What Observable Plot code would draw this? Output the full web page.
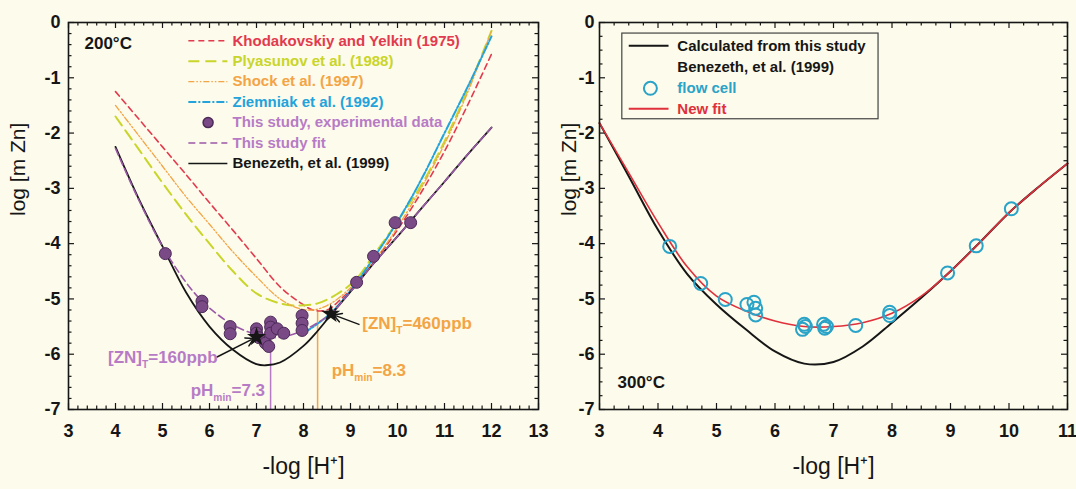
<!DOCTYPE html>
<html>
<head>
<meta charset="utf-8">
<script src="https://cdn.jsdelivr.net/npm/d3@7"></script>
<script src="https://cdn.jsdelivr.net/npm/@observablehq/plot@0.6"></script>
<style>
  html, body { margin: 0; padding: 0; background: #fdfbeb; }
  #wrap { display: flex; width: 1076px; height: 489px; background: #fdfbeb; }
  #wrap svg { display: block; overflow: visible; }
</style>
</head>
<body>
<div id="wrap"></div>
<script>
// ---------- 200 °C panel: literature models ----------
const khoX = [4, 4.5, 5, 5.5, 6, 6.5, 7, 7.5, 7.9, 8.2, 8.5, 8.8, 9.2, 9.6, 10, 10.5, 11, 11.5, 12];
const khoY = [-1.25, -1.75, -2.25, -2.75, -3.26, -3.76, -4.27, -4.78, -5.05, -5.2, -5.2, -5.0, -4.65, -4.22, -3.75, -3.08, -2.33, -1.48, -0.57];

const plyX = [4, 4.5, 5, 5.5, 6, 6.5, 7, 7.5, 7.9, 8.3, 8.7, 9.1, 9.5, 10, 10.5, 11, 11.5, 12];
const plyY = [-1.7, -2.3, -2.9, -3.47, -4.0, -4.5, -4.9, -5.08, -5.12, -5.08, -4.92, -4.66, -4.2, -3.6, -2.95, -2.15, -1.2, -0.15];

const shoX = [4, 4.5, 5, 5.5, 6, 6.5, 7, 7.5, 7.9, 8.2, 8.5, 8.8, 9.2, 9.6, 10, 10.5, 11, 11.5, 12];
const shoY = [-1.5, -2.05, -2.6, -3.15, -3.65, -4.15, -4.6, -5.0, -5.17, -5.2, -5.12, -4.95, -4.62, -4.2, -3.7, -3.0, -2.2, -1.25, -0.15];

const zieX = [8.0, 8.3, 8.6, 9, 9.5, 10, 10.5, 11, 11.5, 12];
const zieY = [-5.62, -5.45, -5.24, -4.85, -4.25, -3.6, -2.85, -2.0, -1.15, -0.25];

const ben200X = [4, 4.5, 5, 5.5, 6, 6.5, 7, 7.2, 7.5, 8, 8.3, 8.6, 9, 9.5, 10, 10.5, 11, 11.5, 12];
const ben200Y = [-2.25, -3.2, -4.05, -4.88, -5.5, -5.92, -6.18, -6.2, -6.15, -5.85, -5.58, -5.27, -4.87, -4.35, -3.87, -3.37, -2.88, -2.38, -1.9];

// ---------- 200 °C panel: this study ----------
const fitX = [4, 4.5, 5, 5.5, 5.85, 6.2, 6.5, 7, 7.3, 7.6, 8, 8.3, 8.6, 9, 9.5, 10, 10.5, 11, 11.5, 12];
const fitY = [-2.28, -3.22, -4.05, -4.7, -5.05, -5.3, -5.47, -5.65, -5.7, -5.68, -5.57, -5.43, -5.25, -4.87, -4.35, -3.87, -3.37, -2.88, -2.38, -1.9];

const expX = [5.06, 5.84, 5.84, 6.44, 6.44, 7.0, 7.0, 7.05, 7.19, 7.26, 7.3, 7.3, 7.3, 7.44, 7.58, 7.97, 7.97, 7.97, 9.13, 9.49, 9.95, 10.28];
const expY = [-4.18, -5.04, -5.14, -5.5, -5.63, -5.54, -5.62, -5.7, -5.8, -5.86, -5.42, -5.51, -5.62, -5.54, -5.62, -5.3, -5.44, -5.57, -4.7, -4.23, -3.62, -3.62];

// solubility minima and the marked points on the curves
const minPH = [7.3, 8.3];
const minStarX = [7.0, 8.58];
const minStarY = [-5.69, -5.27];
const minTop = [-5.69, -5.22];
const minLabels = ["[ZN]T=160ppb", "[ZN]T=460ppb"];
const pHLabels = ["pHmin=7.3", "pHmin=8.3"];

// ---------- 300 °C panel ----------
const calcX = [3, 3.5, 4, 4.5, 5, 5.5, 6, 6.5, 7, 7.5, 8, 8.5, 9, 9.5, 10, 10.5, 11];
const calcY = [-1.82, -2.78, -3.75, -4.55, -5.1, -5.55, -5.95, -6.17, -6.14, -5.86, -5.43, -4.98, -4.5, -3.98, -3.44, -2.98, -2.55];

const newFitX = [3, 3.5, 4, 4.5, 5, 5.5, 6, 6.5, 7, 7.5, 8, 8.5, 9, 9.5, 10, 10.5, 11];
const newFitY = [-1.82, -2.72, -3.62, -4.42, -4.95, -5.22, -5.4, -5.5, -5.5, -5.43, -5.26, -4.95, -4.5, -3.98, -3.44, -2.98, -2.55];

const flowX = [4.2, 4.73, 5.15, 5.52, 5.64, 5.67, 5.67, 6.47, 6.5, 6.52, 6.83, 6.85, 6.88, 7.38, 7.96, 7.96, 8.95, 9.44, 10.04];
const flowY = [-4.05, -4.72, -5.01, -5.1, -5.06, -5.17, -5.29, -5.55, -5.46, -5.5, -5.46, -5.53, -5.5, -5.48, -5.24, -5.3, -4.53, -4.04, -3.37];

// ---------- ticks ----------
const xTicks200 = d3.range(3, 14);
const xTicks300 = d3.range(3, 12);
const yTicks = d3.range(-7, 1);

// ---------- colours ----------
const ink = "#161616";
const cRed = "#e23a4e";
const cYellow = "#c9d52a";
const cOrange = "#f3a445";
const cCyan = "#22a3dc";
const cPurple = "#9b5aa8";
const cLilac = "#b77bc6";
const cDot = "#7a4a86";
const cFlow = "#2aa3c8";
const cNewFit = "#e0303c";

const pts = (xs, ys) => xs.map((x, i) => ({x, y: ys[i]}));
const minor = (lo, hi, step) => d3.range(Math.round(lo / step), Math.round(hi / step) + 1)
  .map(i => +(i * step).toFixed(4)).filter(v => Math.abs(v - Math.round(v)) > 1e-6);

const H = 489, MT = 22, MB = 80;
const FH = H - MT - MB;
const font = "'Liberation Sans', Arial, sans-serif";
const narrow = "'Liberation Sans Narrow', 'Arial Narrow', 'Liberation Sans', sans-serif";

// inward ticks on all four sides of the frame
function frameTicks(xMaj, xMin, yMaj, yMin, fw) {
  const big = 6, small = 3.5, s = {stroke: ink, strokeWidth: 1.2};
  return [
    Plot.tickX(xMaj, {...s, insetTop: FH - big}),
    Plot.tickX(xMaj, {...s, insetBottom: FH - big}),
    Plot.tickX(xMin, {...s, insetTop: FH - small}),
    Plot.tickX(xMin, {...s, insetBottom: FH - small}),
    Plot.tickY(yMaj, {...s, insetRight: fw - big}),
    Plot.tickY(yMaj, {...s, insetLeft: fw - big}),
    Plot.tickY(yMin, {...s, insetRight: fw - small}),
    Plot.tickY(yMin, {...s, insetLeft: fw - small})
  ];
}

function axes(xMaj, titleDx, yPad) {
  const fmt = d => `${d}`;
  const tickText = {tickSize: 0, fontSize: 18, fontWeight: "bold", fontFamily: narrow, fill: ink, label: null, tickFormat: fmt};
  return [
    Plot.axisX(xMaj, {...tickText, tickPadding: 15}),
    Plot.axisY(yTicks, {...tickText, tickPadding: yPad}),
    Plot.text(["log [m Zn]"], {frameAnchor: "left", rotate: -90, dx: titleDx, fontSize: 21, fill: ink}),
    Plot.text(["-log [H\u207A]"], {frameAnchor: "bottom", dy: 64, fontSize: 23, fill: ink}),
    Plot.frame({stroke: ink, strokeWidth: 1.6})
  ];
}

// ---------- left panel ----------
const W1 = 545, ML1 = 68, MR1 = 7, FW1 = W1 - ML1 - MR1;

const legend200 = [
  {label: "Khodakovskiy and Yelkin (1975)", fill: cRed, stroke: cRed, dash: "6,4", sw: 1.6},
  {label: "Plyasunov et al. (1988)", fill: cYellow, stroke: cYellow, dash: "11,6", sw: 2},
  {label: "Shock et al. (1997)", fill: cOrange, stroke: cOrange, dash: "6,2,1.5,2,1.5,2", sw: 1.3},
  {label: "Ziemniak et al. (1992)", fill: cCyan, stroke: cCyan, dash: "8,2,2,2", sw: 2},
  {label: "This study, experimental data", fill: cLilac, stroke: null},
  {label: "This study fit", fill: cLilac, stroke: cPurple, dash: "7,4", sw: 1.6},
  {label: "Benezeth, et al. (1999)", fill: ink, stroke: ink, dash: null, sw: 1.3}
];
const legRowY = [-0.33, -0.70, -1.07, -1.44, -1.81, -2.18, -2.55];
legend200.forEach((d, i) => d.y = legRowY[i]);

const curve = "catmull-rom";
const left = Plot.plot({
  width: W1, height: H,
  marginLeft: ML1, marginRight: MR1, marginTop: MT, marginBottom: MB,
  x: {domain: [3, 13]},
  y: {domain: [-7, 0]},
  style: {background: "transparent", fontFamily: font, color: ink, overflow: "visible"},
  marks: [
    ...frameTicks(xTicks200, minor(3, 13, 0.2), yTicks, minor(-7, 0, 0.2), FW1),
    // pH of minimum solubility
    Plot.ruleX([0], {x: () => minPH[0], y1: minTop[0], y2: -7, stroke: cLilac, strokeWidth: 1.5}),
    Plot.ruleX([0], {x: () => minPH[1], y1: minTop[1], y2: -7, stroke: cOrange, strokeWidth: 1.5}),
    // curves
    Plot.line(pts(khoX, khoY), {x: "x", y: "y", stroke: cRed, strokeWidth: 1.6, strokeDasharray: "6,4", curve}),
    Plot.line(pts(plyX, plyY), {x: "x", y: "y", stroke: cYellow, strokeWidth: 2, strokeDasharray: "11,6", curve}),
    Plot.line(pts(shoX, shoY), {x: "x", y: "y", stroke: cOrange, strokeWidth: 1.3, strokeDasharray: "6,2,1.5,2,1.5,2", curve}),
    Plot.line(pts(zieX, zieY), {x: "x", y: "y", stroke: cCyan, strokeWidth: 2, strokeDasharray: "8,2,2,2", curve}),
    Plot.line(pts(ben200X, ben200Y), {x: "x", y: "y", stroke: ink, strokeWidth: 1.8, curve}),
    Plot.line(pts(fitX, fitY), {x: "x", y: "y", stroke: cPurple, strokeWidth: 1.6, strokeDasharray: "7,4", curve}),
    Plot.dot(pts(expX, expY), {x: "x", y: "y", r: 6, fill: cDot, stroke: "#4c2a58", strokeWidth: 1}),
    // minimum annotations
    Plot.arrow([0], {x1: 6.16, y1: -6.05, x2: () => minStarX[0], y2: () => minStarY[0], stroke: ink, strokeWidth: 1.5, headLength: 9, insetEnd: 3}),
    Plot.arrow([0], {x1: 9.18, y1: -5.46, x2: () => minStarX[1], y2: () => minStarY[1], stroke: ink, strokeWidth: 1.5, headLength: 9, insetEnd: 3}),
    Plot.dot(pts(minStarX, minStarY), {x: "x", y: "y", symbol: "star", r: 6, fill: ink, stroke: null}),
    Plot.text([minLabels[0]], {x: 3.84, y: -6.06, textAnchor: "start", fontSize: 17, fill: cLilac, fontWeight: "bold"}),
    Plot.text([minLabels[1]], {x: 9.25, y: -5.45, textAnchor: "start", fontSize: 17, fill: cOrange, fontWeight: "bold"}),
    Plot.text([pHLabels[0]], {x: 5.6, y: -6.65, textAnchor: "start", fontSize: 17, fill: cLilac, fontWeight: "bold"}),
    Plot.text([pHLabels[1]], {x: 8.6, y: -6.3, textAnchor: "start", fontSize: 17, fill: cOrange, fontWeight: "bold"}),
    Plot.text(["200°C"], {frameAnchor: "top-left", dx: 16, dy: 14, fontSize: 17, fontWeight: "bold", fill: ink, textAnchor: "start"}),
    // legend
    ...legend200.filter(d => d.stroke).map(d =>
      Plot.link([d], {x1: 5.55, x2: 6.38, y1: "y", y2: "y", stroke: d.stroke, strokeWidth: d.sw, strokeDasharray: d.dash})),
    Plot.dot(legend200.filter(d => !d.stroke), {x: 5.97, y: "y", r: 5, fill: cDot, stroke: "#4c2a58"}),
    Plot.text(legend200, {x: 6.49, y: "y", text: "label", fill: "fill", textAnchor: "start", fontSize: 15, fontWeight: "bold"}),
    ...axes(xTicks200, -50, 8)
  ]
});

// ---------- right panel ----------
const W2 = 531, ML2 = 54, MR2 = 9, FW2 = W2 - ML2 - MR2;
const legend300 = [
  {label: "Calculated from this study", y: -0.42, fill: ink},
  {label: "Benezeth, et al. (1999)", y: -0.81, fill: ink},
  {label: "flow cell", y: -1.19, fill: cFlow},
  {label: "New fit", y: -1.56, fill: cNewFit}
];

const right = Plot.plot({
  width: W2, height: H,
  marginLeft: ML2, marginRight: MR2, marginTop: MT, marginBottom: MB,
  x: {domain: [3, 11]},
  y: {domain: [-7, 0]},
  style: {background: "transparent", fontFamily: font, color: ink, overflow: "visible"},
  marks: [
    ...frameTicks(xTicks300, minor(3, 11, 0.25), yTicks, minor(-7, 0, 0.25), FW2),
    Plot.line(pts(calcX, calcY), {x: "x", y: "y", stroke: ink, strokeWidth: 2, curve}),
    Plot.line(pts(newFitX, newFitY), {x: "x", y: "y", stroke: cNewFit, strokeWidth: 1.6, curve}),
    Plot.dot(pts(flowX, flowY), {x: "x", y: "y", r: 6.5, stroke: cFlow, strokeWidth: 2, fill: "none"}),
    Plot.text(["300°C"], {frameAnchor: "bottom-left", dx: 18, dy: -22, fontSize: 17, fontWeight: "bold", fill: ink, textAnchor: "start"}),
    // legend
    Plot.rect([0], {x1: 3.39, x2: 7.77, y1: -0.2, y2: -1.75, fill: "#fdfbeb", stroke: "#444", strokeWidth: 1.2}),
    Plot.link([legend300[0]], {x1: 3.5, x2: 4.18, y1: "y", y2: "y", stroke: ink, strokeWidth: 2}),
    Plot.dot([legend300[2]], {x: 3.87, y: "y", r: 6.5, stroke: cFlow, strokeWidth: 2, fill: "none"}),
    Plot.link([legend300[3]], {x1: 3.5, x2: 4.18, y1: "y", y2: "y", stroke: cNewFit, strokeWidth: 2}),
    Plot.text(legend300, {x: 4.33, y: "y", text: "label", fill: "fill", textAnchor: "start", fontSize: 15, fontWeight: "bold"}),
    ...axes(xTicks300, -30, 5)
  ]
});

// subscripts inside annotation labels
function subscripts(svg) {
  const rules = [
    [/^\[ZN\]T(=.*)$/, m => ["[ZN]", "T", m[1]]],
    [/^pHmin(=.*)$/, m => ["pH", "min", m[1]]]
  ];
  d3.select(svg).selectAll("text").each(function () {
    const t = this.textContent;
    for (const [re, f] of rules) {
      const m = t.match(re);
      if (!m) continue;
      const [a, b, c] = f(m);
      const sel = d3.select(this);
      sel.text(null);
      sel.append("tspan").text(a);
      sel.append("tspan").attr("dy", 5).attr("font-size", "60%").text(b);
      sel.append("tspan").attr("dy", -5).text(c);
    }
  });
}
subscripts(left);
subscripts(right);

document.getElementById("wrap").append(left, right);
</script>
</body>
</html>
